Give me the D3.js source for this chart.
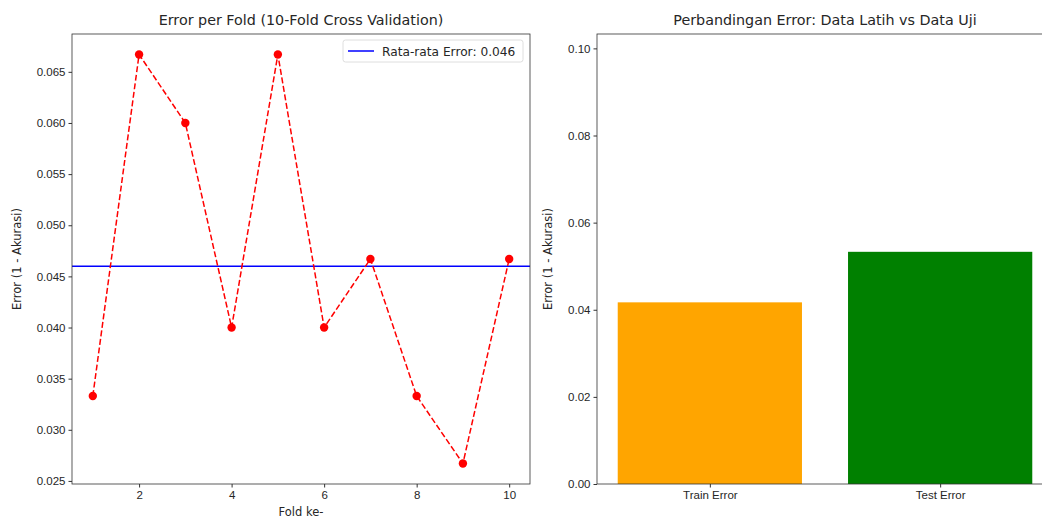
<!DOCTYPE html>
<html>
<head>
<meta charset="utf-8">
<script src="https://cdn.jsdelivr.net/npm/d3@7"></script>
<style>
  body { margin: 0; background: #fff; }
  svg { display: block; font-family: "DejaVu Sans", sans-serif; }
  .tick text { fill: #262626; font-size: 11.5px; }
  .tick line { stroke: #333; }
  .domain { stroke: none; }
</style>
</head>
<body>
<div id="chart"></div>
<script>
// data
const folds = [1, 2, 3, 4, 5, 6, 7, 8, 9, 10]
const foldErrors = [0.0333, 0.0667, 0.0600, 0.0400, 0.0667, 0.0400, 0.0467, 0.0333, 0.0267, 0.0467]
const meanError = 0.046
const barLabels = ['Train Error', 'Test Error']
const barValues = [0.0417, 0.0533]
const barColors = ['orange', 'green']

const W = 1042, H = 520
const svg = d3.select('#chart').append('svg').attr('width', W).attr('height', H)

// ---- left: error per fold ----
const L = { x0: 72, x1: 530, y0: 34, y1: 484 }
const yMin = d3.min(foldErrors), yMax = d3.max(foldErrors)
const yPad = (yMax - yMin) * 0.05
const xL = d3.scaleLinear().domain([1 - 0.45, 10 + 0.45]).range([L.x0, L.x1])
const yL = d3.scaleLinear().domain([yMin - yPad, yMax + yPad]).range([L.y1, L.y0])

const gL = svg.append('g')
gL.append('g').attr('transform', `translate(0,${L.y1})`)
  .call(d3.axisBottom(xL).tickValues([2, 4, 6, 8, 10]).tickSize(3.5).tickPadding(3))
gL.append('g').attr('transform', `translate(${L.x0},0)`)
  .call(d3.axisLeft(yL).tickValues([0.025, 0.030, 0.035, 0.040, 0.045, 0.050, 0.055, 0.060, 0.065])
    .tickFormat(d3.format('.3f')).tickSize(3.5).tickPadding(3))

gL.append('line')
  .attr('x1', L.x0).attr('x2', L.x1)
  .attr('y1', yL(meanError)).attr('y2', yL(meanError))
  .attr('stroke', 'blue').attr('stroke-width', 1.5)

const line = d3.line().x((d, i) => xL(folds[i])).y(d => yL(d))
gL.append('path').datum(foldErrors)
  .attr('d', line).attr('fill', 'none')
  .attr('stroke', 'red').attr('stroke-width', 1.5).attr('stroke-dasharray', '6,2.6')
gL.selectAll('circle.pt').data(foldErrors).enter().append('circle')
  .attr('cx', (d, i) => xL(folds[i])).attr('cy', d => yL(d)).attr('r', 4.2).attr('fill', 'red')

gL.append('rect').attr('x', L.x0).attr('y', L.y0).attr('width', L.x1 - L.x0).attr('height', L.y1 - L.y0)
  .attr('fill', 'none').attr('stroke', '#333').attr('stroke-width', 0.8)

// legend
const lg = gL.append('g').attr('transform', `translate(343,40)`)
lg.append('rect').attr('width', 180).attr('height', 22).attr('rx', 2.5)
  .attr('fill', 'rgba(255,255,255,0.8)').attr('stroke', '#d6d6d6').attr('stroke-width', 0.8)
lg.append('line').attr('x1', 5).attr('x2', 31).attr('y1', 11).attr('y2', 11)
  .attr('stroke', 'blue').attr('stroke-width', 1.5)
lg.append('text').attr('x', 39).attr('y', 15.5).attr('font-size', 12.2).attr('fill', '#262626')
  .text('Rata-rata Error: ' + meanError.toFixed(3))

gL.append('text').attr('x', (L.x0 + L.x1) / 2).attr('y', 25).attr('text-anchor', 'middle')
  .attr('font-size', 14.3).attr('fill', '#262626').text('Error per Fold (10-Fold Cross Validation)')
gL.append('text').attr('x', (L.x0 + L.x1) / 2).attr('y', 516).attr('text-anchor', 'middle')
  .attr('font-size', 11.5).attr('fill', '#262626').text('Fold ke-')
gL.append('text').attr('transform', `translate(21,${(L.y0 + L.y1) / 2}) rotate(-90)`)
  .attr('text-anchor', 'middle').attr('font-size', 11.5).attr('fill', '#262626').text('Error (1 - Akurasi)')

// ---- right: train vs test ----
const R = { x0: 597, x1: 1053, y0: 34, y1: 484 }
const xR = d3.scaleLinear().domain([-0.49, 1.49]).range([R.x0, R.x1])
const yR = d3.scaleLinear().domain([0, d3.max(barValues) + 0.05]).range([R.y1, R.y0])

const gR = svg.append('g')
gR.selectAll('rect.bar').data(barValues).enter().append('rect')
  .attr('x', (d, i) => xR(i - 0.4)).attr('width', xR(0.4) - xR(-0.4))
  .attr('y', d => yR(d)).attr('height', d => yR(0) - yR(d))
  .attr('fill', (d, i) => barColors[i])

gR.append('g').attr('transform', `translate(0,${R.y1})`)
  .call(d3.axisBottom(xR).tickValues([0, 1]).tickFormat(i => barLabels[i]).tickSize(3.5).tickPadding(3))
gR.append('g').attr('transform', `translate(${R.x0},0)`)
  .call(d3.axisLeft(yR).tickValues([0, 0.02, 0.04, 0.06, 0.08, 0.10])
    .tickFormat(d3.format('.2f')).tickSize(3.5).tickPadding(3))

gR.append('rect').attr('x', R.x0).attr('y', R.y0).attr('width', R.x1 - R.x0).attr('height', R.y1 - R.y0)
  .attr('fill', 'none').attr('stroke', '#333').attr('stroke-width', 0.8)

gR.append('text').attr('x', (R.x0 + R.x1) / 2).attr('y', 25).attr('text-anchor', 'middle')
  .attr('font-size', 14.3).attr('fill', '#262626').text('Perbandingan Error: Data Latih vs Data Uji')
gR.append('text').attr('transform', `translate(552,${(R.y0 + R.y1) / 2}) rotate(-90)`)
  .attr('text-anchor', 'middle').attr('font-size', 11.5).attr('fill', '#262626').text('Error (1 - Akurasi)')
</script>
</body>
</html>
